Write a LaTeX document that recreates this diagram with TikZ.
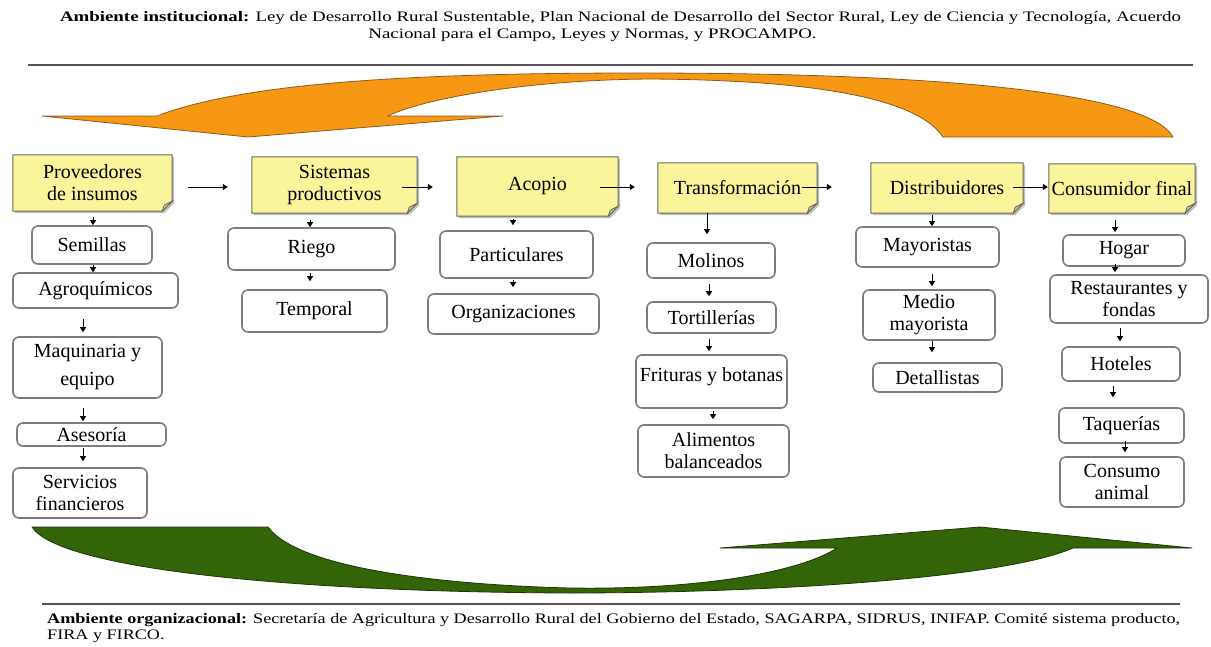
\documentclass[tikz,border=0pt]{standalone}
\usepackage{fontspec}
\setmainfont{Liberation Serif}
\usepackage{graphicx}
\usetikzlibrary{arrows.meta,calc}
\pgfdeclarelayer{background}
\pgfsetlayers{background,main}
\definecolor{yel}{RGB}{250,245,155}
\definecolor{ybord}{RGB}{105,105,95}
\definecolor{yfold}{RGB}{215,205,120}
\definecolor{wbord}{RGB}{125,125,125}
\definecolor{orng}{RGB}{247,152,20}
\definecolor{orngd}{RGB}{140,90,30}
\definecolor{grn}{RGB}{52,100,8}
\definecolor{grnd}{RGB}{28,55,5}
\definecolor{rulec}{RGB}{85,85,85}
\newsavebox\lineTop
\newsavebox\lineBot
\newdimen\lnw
\newcommand\envfont{\fontsize{14.5}{17}\selectfont}
% white rounded box: name, x1, x2, y1, y2, text
\newcommand\wb[6]{\node[wbox, minimum width={(#3-#2)*1pt}, minimum height={(#5-#4)*1pt}] (#1) at ({(#2+#3)/2},{(#4+#5)/2}) {#6};}
% yellow note box: name, x1, x2, y1, y2, text
\newcommand\yb[6]{%
  \node[boxtext, minimum width={(#3-#2)*1pt}, minimum height={(#5-#4)*1pt}] (#1) at ({(#2+#3)/2},{(#4+#5)/2}) {#6};
  \begin{pgfonlayer}{background}
    \fill[black!25] ([xshift=2pt,yshift=-2pt]#1.north west) -- ([xshift=2pt,yshift=-2pt]#1.north east) -- ([xshift=2pt,yshift=8pt]#1.south east) -- ([xshift=-8pt,yshift=-2pt]#1.south east) -- ([xshift=2pt,yshift=-2pt]#1.south west) -- cycle;
    \filldraw[yshape] (#1.north west) -- (#1.north east) -- ([yshift=10pt]#1.south east) -- ([xshift=-10pt]#1.south east) -- (#1.south west) -- cycle;
    \filldraw[fill=yfold, draw=ybord, line width=0.8pt] ([yshift=10pt]#1.south east) -- ([xshift=-8pt,yshift=6pt]#1.south east) -- ([xshift=-10pt]#1.south east) -- cycle;
  \end{pgfonlayer}}
% vertical arrow: from, to, x, start gap, end gap
\newcommand\va[5]{\draw[arr, shorten <=#4pt, shorten >=#5pt] (#1.south -| #3,0) -- (#2.north -| #3,0);}
% horizontal arrow: from, to, start gap, end gap
\newcommand\ha[4]{\draw[arr, shorten <=#3pt, shorten >=#4pt] (#1.east |- 0,187) -- (#2.west |- 0,187);}
\begin{document}
\sbox\lineTop{\envfont\textbf{Ambiente institucional:} Ley de Desarrollo Rural Sustentable, Plan Nacional de Desarrollo del Sector Rural, Ley de Ciencia y Tecnología, Acuerdo}%
\lnw=\wd\lineTop
\pgfmathsetmacro\sxTop{1121/\lnw}%
\sbox\lineBot{\envfont\textbf{Ambiente organizacional:} Secretaría de Agricultura y Desarrollo Rural del Gobierno del Estado, SAGARPA, SIDRUS, INIFAP. Comité sistema producto,}%
\lnw=\wd\lineBot
\pgfmathsetmacro\sxBot{1133/\lnw}%
\begin{tikzpicture}[x=1pt,y=-1pt,
  boxtext/.style={font=\fontsize{20}{22}\selectfont, align=center, inner sep=0pt},
  wbox/.style={boxtext, draw=wbord, line width=1.6pt, rounded corners=6pt, fill=white},
  yshape/.style={fill=yel, draw=ybord, line width=1pt},
  arr/.style={line width=0.9pt, -{Triangle[length=5pt,width=6pt]}},
  envtext/.style={inner sep=0pt, anchor=center},
  rulestyle/.style={draw=rulec, line width=2.6pt},
  orangearrow/.style={fill=orng, draw=orngd, line width=0.8pt, line join=round},
  greenarrow/.style={fill=grn, draw=grnd, line width=0.8pt, line join=round}]
\useasboundingbox (0,0) rectangle (1211,646);

% ---- texts of the environments ----
\node[envtext] (top1) at (620.5,18) {\scalebox{\sxTop}[1]{\usebox\lineTop}};
\node[envtext] (top2) at (592.5,35) {\scalebox{\sxTop}[1]{\envfont Nacional para el Campo, Leyes y Normas, y PROCAMPO.}};
\node[envtext, anchor=west] (bot1) at (47,620) {\scalebox{\sxBot}[1]{\usebox\lineBot}};
\node[envtext, anchor=west] (bot2) at (47,636) {\scalebox{\sxBot}[1]{\envfont FIRA y FIRCO.}};

% ---- rules ----
\coordinate (rt1) at (28,65);
\coordinate (rt2) at (1193,65);
\coordinate (rb1) at (42,604);
\coordinate (rb2) at (1180,604);
\draw[rulestyle] (rt1) -- (rt2);
\draw[rulestyle] (rb1) -- (rb2);

% ---- orange arrow (curved body, then head) ----
\coordinate (oa) at (157,116);
\coordinate (ob) at (1173,137);
\coordinate (oc) at (943,137);
\coordinate (oe) at (388,116);
\filldraw[orangearrow] (oa) .. controls (240,84) and (400,73) .. (640,73)
  .. controls (960,73) and (1150,95) .. (ob) -- (oc)
  .. controls (915,95) and (800,80) .. (650,79)
  .. controls (520,80) and (420,100) .. (oe) -- cycle;
\filldraw[orangearrow] (42,116) -- (oa) -- (oe) -- (503,116) -- (248,137) -- cycle;
\fill[orng] ([xshift=1pt,yshift=-1.5pt]oa) -- ([xshift=-1pt,yshift=-1.5pt]oe) -- ([xshift=-1pt,yshift=1pt]oe) -- ([xshift=1pt,yshift=1pt]oa) -- cycle;

% ---- green arrow ----
\filldraw[greenarrow] (32,527) -- (268,527) .. controls (300,570) and (450,585) .. (570,588)
  .. controls (700,590) and (800,572) .. (837,548)
  -- (720,548) -- (980,527) -- (1192,548) -- (1073,548)
  .. controls (1000,580) and (750,593) .. (570,593)
  .. controls (300,592) and (60,570) .. (32,527) -- cycle;

% ---- yellow boxes ----
\yb{prov}{13}{172}{155}{211}{Proveedores\\de insumos}
\yb{sis}{252}{417}{157}{213}{Sistemas\\productivos}
\yb{acop}{457}{618}{157}{216}{Acopio}
\yb{trans}{658}{817}{163}{213}{Transformación}
\yb{dist}{871}{1023}{163}{213}{Distribuidores}
\yb{consf}{1049}{1195}{164}{213}{Consumidor final}

% ---- white boxes ----
\wb{sem}{32}{152}{226}{264}{Semillas}
\wb{agro}{13}{178}{273}{308}{Agroquímicos}
\wb{maq}{13}{162}{337}{398}{Maquinaria y\\[6pt]equipo}
\wb{ases}{17}{166}{423}{446}{Asesoría}
\wb{serv}{13}{147}{468}{518}{Servicios\\financieros}
\wb{riego}{228}{395}{228}{270}{Riego}
\wb{temp}{242}{387}{290}{332}{Temporal}
\wb{part}{440}{593}{231}{278}{Particulares}
\wb{org}{428}{599}{294}{334}{Organizaciones}
\wb{mol}{647}{775}{243}{278}{Molinos}
\wb{tort}{647}{776}{302}{333}{Tortillerías}
\node[wbox, text depth=13.6pt, minimum width=151pt, minimum height=53pt] (frit) at (711.5,381.5) {Frituras y botanas};
\wb{alim}{638}{789}{425}{477}{Alimentos\\balanceados}
\wb{may}{856}{999}{227}{267}{Mayoristas}
\wb{medio}{863}{995}{290}{340}{Medio\\mayorista}
\wb{det}{873}{1002}{363}{392}{Detallistas}
\wb{hogar}{1063}{1185}{235}{266}{Hogar}
\wb{rest}{1050}{1208}{275}{323}{Restaurantes y\\fondas}
\wb{hot}{1062}{1180}{347}{381}{Hoteles}
\wb{taq}{1059}{1184}{408}{443}{Taquerías}
\wb{consa}{1060}{1184}{457}{507}{Consumo\\animal}

% ---- horizontal arrows ----
\ha{prov}{sis}{16}{24}
\ha{sis}{acop}{-15}{24}
\ha{acop}{trans}{-18}{23}
\ha{trans}{dist}{-15}{39}
\ha{dist}{consf}{-10}{1}

% ---- vertical arrows ----
\va{prov}{sem}{93}{6}{0}
\va{sem}{agro}{93}{0}{0}
\va{agro}{maq}{83}{10}{4}
\va{maq}{ases}{83}{9}{1}
\va{ases}{serv}{83}{1}{6}
\va{sis}{riego}{310}{7}{0}
\va{riego}{temp}{310}{2}{8}
\va{acop}{part}{513}{3}{5}
\va{part}{org}{513}{1}{6}
\va{trans}{mol}{707}{0}{8}
\va{mol}{tort}{709}{5}{5}
\va{tort}{frit}{709}{5}{3}
\va{frit}{alim}{713}{2}{5}
\va{dist}{may}{932}{2}{0}
\va{may}{medio}{932}{6}{3}
\va{medio}{det}{932}{0}{10}
\va{consf}{hogar}{1115}{7}{2}
\va{hogar}{rest}{1115}{-3}{2}
\va{rest}{hot}{1120}{4}{5}
\va{hot}{taq}{1113}{4}{10}
\va{taq}{consa}{1125}{-3}{4}
\end{tikzpicture}
\end{document}
